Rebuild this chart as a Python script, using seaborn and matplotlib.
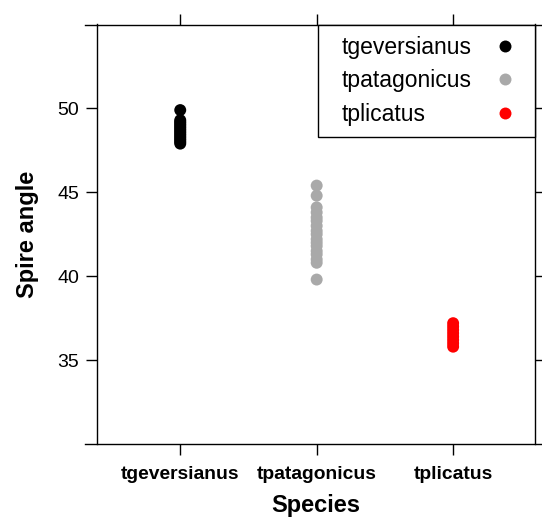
import matplotlib
matplotlib.use("Agg")
import matplotlib.pyplot as plt
from matplotlib.offsetbox import DrawingArea
import seaborn as sns
import pandas as pd

# Spire angle measurements per species
species = ["tgeversianus", "tpatagonicus", "tplicatus"]
tgeversianus = [47.9, 48.0, 48.1, 48.2, 48.3, 48.4, 48.5, 48.6, 48.7, 48.8,
                48.9, 49.0, 49.1, 49.2, 49.3, 49.9]
tpatagonicus = [45.4, 44.8, 44.1, 43.8, 43.5, 43.3, 43.0, 42.7, 42.5, 42.2,
                42.0, 41.8, 41.5, 41.3, 41.0, 40.8, 39.8]
tplicatus = [35.8, 36.0, 36.2, 36.4, 36.6, 36.8, 37.0, 37.2]
palette = ["#000000", "#A9A9A9", "#FF0000"]
yticks = [35, 40, 45, 50]

df = pd.DataFrame({
    "Species": (["tgeversianus"] * len(tgeversianus)
                + ["tpatagonicus"] * len(tpatagonicus)
                + ["tplicatus"] * len(tplicatus)),
    "Spire angle": tgeversianus + tpatagonicus + tplicatus,
})

sns.set_style("ticks")
plt.rcParams["font.family"] = ["Liberation Sans", "DejaVu Sans"]
for key in ["text.color", "axes.labelcolor", "xtick.color", "ytick.color",
            "axes.edgecolor"]:
    plt.rcParams[key] = "black"

DPI = 100
fig = plt.figure(figsize=(5.42, 5.18), dpi=DPI)
ax = fig.add_axes([97 / 542, 1 - 444 / 518, (535 - 97) / 542, (444 - 24.5) / 518])

sns.stripplot(data=df, x="Species", y="Spire angle", hue="Species",
              order=species, hue_order=species, palette=palette,
              jitter=False, size=8.6, linewidth=0, ax=ax, legend=True)

XLO, XHI = 0.39 - 1, 3.6 - 1
ax.set_xlim(XLO, XHI)
ax.set_ylim(30, 55)
ax.set_yticks(yticks)
ax.set_yticklabels([str(v) for v in yticks], fontsize=14)

for s in ["left", "right", "top", "bottom"]:
    ax.spines[s].set_visible(True)
    ax.spines[s].set_color("black")
    ax.spines[s].set_linewidth(1.0)

# horizontal frame lines run past the box by one tick length on each side
ext = 12 * (XHI - XLO) / 438
for s in ["top", "bottom"]:
    ax.spines[s].set_bounds(XLO - ext, XHI + ext)
    ax.spines[s].set_clip_on(False)

ax.tick_params(axis="both", direction="out", length=8, width=1, color="black",
               top=True, right=True, labeltop=False, labelright=False)
ax.tick_params(axis="y", pad=5)
ax.tick_params(axis="x", pad=8)
for lbl in ax.get_xticklabels():
    lbl.set_fontsize(13.9)
    lbl.set_fontweight("bold")

ax.set_xlabel("Species", fontsize=17, fontweight="bold", labelpad=8)
ax.set_ylabel("Spire angle", fontsize=17, fontweight="bold", labelpad=13)

# Legend: labels flush left, markers in a column on the right
LEG_FS = 16.5
leg = ax.legend(loc="upper right", markerfirst=False, frameon=True,
                fancybox=False, borderaxespad=0, fontsize=LEG_FS,
                handletextpad=0, borderpad=0.5, labelspacing=0.45,
                handlelength=1.6, markerscale=1.0)
leg.get_frame().set_edgecolor("black")
leg.get_frame().set_linewidth(1.0)
leg.get_frame().set_alpha(1)

fig.canvas.draw()
renderer = fig.canvas.get_renderer()
px2pt = 72.0 / DPI
inner_px = 217 - 2 * 0.5 * LEG_FS / px2pt     # legend width minus border pads
handle_px = 1.6 * LEG_FS / px2pt
left_px = 12.5
column = leg._legend_handle_box.get_children()[0]
column.align = "left"
for row, txt in zip(column.get_children(), leg.get_texts()):
    w = txt.get_window_extent(renderer).width
    gap = inner_px - left_px - w - handle_px
    kids = row.get_children()
    kids.insert(0, DrawingArea(left_px * px2pt, 0))
    kids.insert(2, DrawingArea(gap * px2pt, 0))

fig.savefig("out.png", dpi=DPI)
